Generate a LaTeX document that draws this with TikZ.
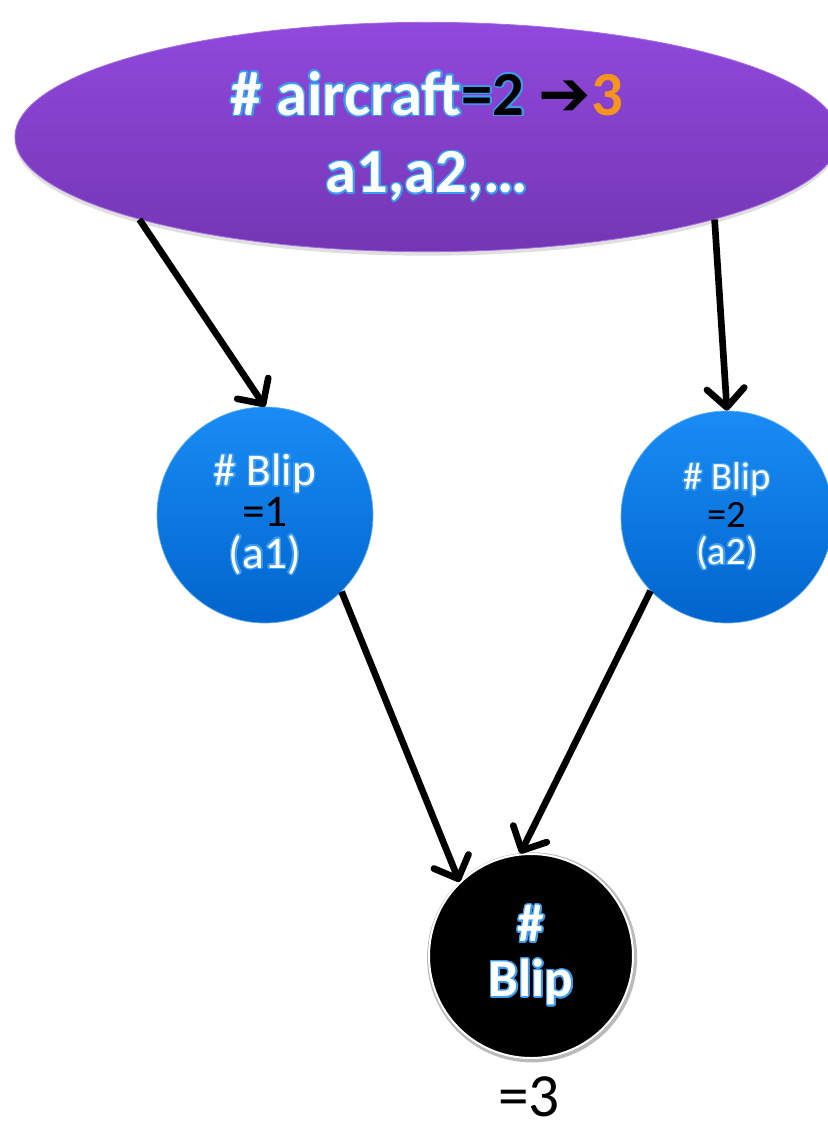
\documentclass[tikz,border=0pt]{standalone}
\usepackage{fontspec}
\setmainfont{Carlito}
\newfontfamily\symfont{DejaVu Sans}
\usepackage{contour}
\usetikzlibrary{arrows.meta,shapes.geometric,shadows}

\definecolor{purpleTop}{HTML}{9049DC}
\definecolor{purpleBot}{HTML}{7436B4}
\definecolor{blueTop}{HTML}{1A8CF5}
\definecolor{blueBot}{HTML}{0064CC}
\definecolor{glow}{HTML}{3A9CF0}
\definecolor{orange3}{HTML}{F7941D}

\contourlength{1.1pt}
\contournumber{24}

\newcommand{\glowtext}[1]{\textcolor{white}{\contour{glow}{#1}}}

\tikzset{
  flow/.style={line width=5pt, -{Straight Barb[length=14pt,width=28pt,round]}},
  topnode/.style={ellipse, inner sep=0pt, minimum width=618pt, minimum height=172pt,
    top color=purpleTop, bottom color=purpleBot, draw=purpleTop!80!white, line width=0.6pt,
    drop shadow={opacity=0.25, shadow xshift=0pt, shadow yshift=-3pt},
    align=center, font={\fontsize{47}{58}\selectfont\bfseries}},
  blipnode/.style={circle, inner sep=0pt, top color=blueTop, bottom color=blueBot,
    draw=blueTop!70!white, line width=0.5pt, align=center},
  sumnode/.style={circle, inner sep=0pt, minimum size=153pt, fill=black, draw=white,
    line width=1.5pt, align=center, font={\fontsize{40}{41}\selectfont\bfseries},
    drop shadow={fill=gray!60, opacity=0.9, shadow scale=1.03, shadow xshift=0.8pt, shadow yshift=-1pt}}
}

\begin{document}
\begin{tikzpicture}[x=0.75pt, y=-0.75pt]
  \useasboundingbox (0,0) rectangle (828,1128);

  % top: the aircraft count
  \node[topnode] (air) at (427,137)
    {\glowtext{\# aircraft}\textcolor{black}{\contour{glow}{=2}} %
     {\symfont\bfseries\textcolor{black}{➔}}\textcolor{orange3}{3}\\
     \glowtext{a1,a2,…}};

  % blips per aircraft
  \node[blipnode, minimum size=162pt, font={\fontsize{34}{31}\selectfont}] (b1) at (265,515)
    {\glowtext{\# Blip}\\ \textcolor{black}{=1}\\ \glowtext{(a1)}};
  \node[blipnode, minimum size=159pt, font={\fontsize{29}{28}\selectfont}] (b2) at (727,517)
    {\glowtext{\# Blip}\\ \textcolor{black}{=2}\\ \glowtext{(a2)}};

  % total blips
  \node[sumnode] (sum) at (531,956) {\glowtext{\#}\\ \glowtext{Blip}};
  \node[anchor=base, inner sep=0pt, font={\fontsize{46}{50}\selectfont}] (res) at (529,1116) {=3};

  % dependencies
  \draw[flow] (air.196) -- (b1.north);
  \draw[flow] (air.344.5) -- (b2.north);
  \draw[flow] (b1.-45) -- (sum.134);
  \draw[flow] (b2.224) -- (sum.96);
\end{tikzpicture}
\end{document}
